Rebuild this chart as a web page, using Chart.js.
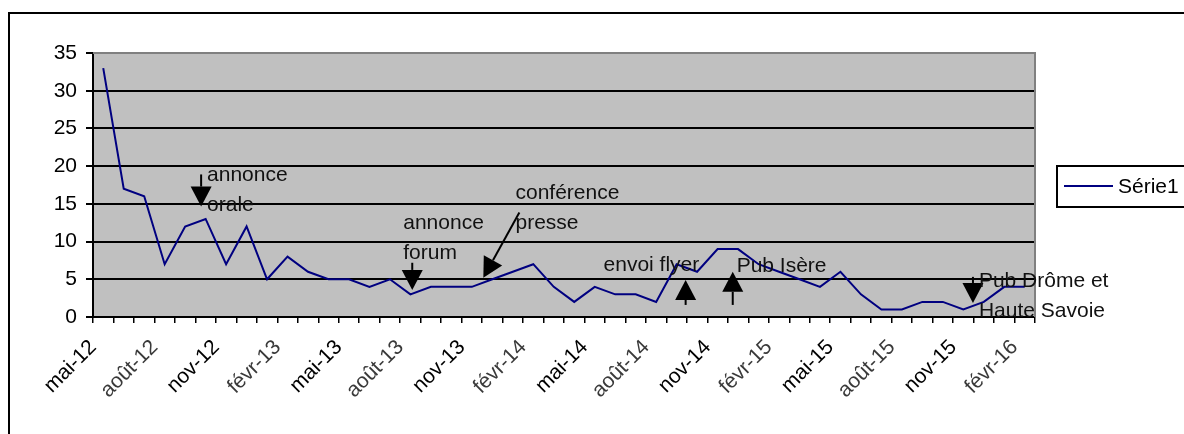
<!DOCTYPE html>
<html><head><meta charset="utf-8">
<script src="https://cdn.jsdelivr.net/npm/chart.js@4/dist/chart.umd.min.js"></script>
<style>html,body{margin:0;padding:0;background:#fff;overflow:hidden}canvas{display:block}</style>
</head><body>
<canvas id="c" width="1184" height="434"></canvas>
<script>
// ---- data ----
const months = ['mai-12','juin-12','juil-12','août-12','sept-12','oct-12','nov-12','déc-12',
 'janv-13','févr-13','mars-13','avr-13','mai-13','juin-13','juil-13','août-13','sept-13','oct-13','nov-13','déc-13',
 'janv-14','févr-14','mars-14','avr-14','mai-14','juin-14','juil-14','août-14','sept-14','oct-14','nov-14','déc-14',
 'janv-15','févr-15','mars-15','avr-15','mai-15','juin-15','juil-15','août-15','sept-15','oct-15','nov-15','déc-15',
 'janv-16','févr-16'];
const serie1 = [33,17,16,7,12,13,7,12,5,8,6,5,5,4,5,3,4,4,4,5,6,7,4,2,4,3,3,2,7,6,9,9,7,6,5,4,6,3,1,1,2,2,1,2,4,4];
const seriesName = 'Série1';
const yTicks = [0,5,10,15,20,25,30,35];
const labelEvery = 3;
// annotations, anchored in data space (category index, value)
const noteTexts = [
  {lines:['annonce','orale'], i:5.07, v:17.97},
  {lines:['annonce','forum'], i:14.65, v:11.71},
  {lines:['conférence','presse'], i:20.13, v:15.70},
  {lines:['envoi flyer'], i:24.43, v:6.12},
  {lines:['Pub Isère'], i:30.93, v:5.99},
  {lines:['Pub Drôme et','Haute Savoie'], i:42.76, v:3.99}
];
const noteArrows = [
  {from:[4.78,18.90], to:[4.78,14.64]},
  {from:[15.09,7.19], to:[15.09,3.59]},
  {from:[20.32,13.84], to:[18.56,5.19]},
  {from:[28.44,1.60], to:[28.44,4.92]},
  {from:[30.74,1.60], to:[30.74,5.99]},
  {from:[42.47,5.32], to:[42.47,1.86]}
];

const FONT = '"Liberation Sans", Arial, sans-serif';
Chart.defaults.font.family = FONT;
Chart.defaults.color = '#000';

function drawArrow(ctx,x1,y1,x2,y2,hl,hw){
  const dx=x2-x1, dy=y2-y1, L=Math.hypot(dx,dy), ux=dx/L, uy=dy/L;
  const bx=x2-ux*hl, by=y2-uy*hl;
  ctx.beginPath(); ctx.moveTo(x1,y1); ctx.lineTo(bx,by); ctx.stroke();
  ctx.beginPath(); ctx.moveTo(x2,y2);
  ctx.lineTo(bx-uy*hw, by+ux*hw); ctx.lineTo(bx+uy*hw, by-ux*hw);
  ctx.closePath(); ctx.fill();
}

const decor = {
  id:'decor',
  beforeDraw(chart){
    const {ctx, chartArea:a} = chart;
    ctx.save();
    ctx.fillStyle='#fff'; ctx.fillRect(0,0,chart.width,chart.height);
    ctx.strokeStyle='#000'; ctx.lineWidth=2;
    ctx.strokeRect(9,13,chart.width+20,chart.height+20);
    ctx.fillStyle='#c0c0c0'; ctx.fillRect(a.left,a.top,a.right-a.left,a.bottom-a.top);
    ctx.restore();
  },
  beforeDatasetsDraw(chart){
    const {ctx, chartArea:a} = chart;
    ctx.save();
    ctx.strokeStyle='#808080'; ctx.lineWidth=2;
    ctx.beginPath(); ctx.moveTo(a.left,a.top); ctx.lineTo(a.right,a.top); ctx.lineTo(a.right,a.bottom); ctx.stroke();
    ctx.restore();
  },
  afterDatasetsDraw(chart){
    const {ctx} = chart; const xs=chart.scales.x, ys=chart.scales.y;
    ctx.save();
    ctx.strokeStyle='#000'; ctx.fillStyle='#000'; ctx.lineWidth=2;
    noteArrows.forEach(a=>{
      drawArrow(ctx, xs.getPixelForValue(a.from[0]), ys.getPixelForValue(a.from[1]),
                xs.getPixelForValue(a.to[0]), ys.getPixelForValue(a.to[1]), 20, 10.5);
    });
    ctx.font='21px '+FONT; ctx.textAlign='left'; ctx.textBaseline='alphabetic';
    ctx.fillStyle='#111';
    noteTexts.forEach(t=>{
      const x=xs.getPixelForValue(t.i), y=ys.getPixelForValue(t.v);
      t.lines.forEach((s,k)=>ctx.fillText(s,x,y+k*30));
    });
    // legend
    const ds=chart.data.datasets[0];
    ctx.strokeStyle='#000'; ctx.lineWidth=2;
    ctx.strokeRect(1057,166,140,41);
    ctx.strokeStyle=ds.borderColor; ctx.lineWidth=2;
    ctx.beginPath(); ctx.moveTo(1064,186); ctx.lineTo(1113,186); ctx.stroke();
    ctx.fillStyle='#000'; ctx.font='21px '+FONT; ctx.textBaseline='middle';
    ctx.fillText(ds.label,1118,187);
    ctx.restore();
  }
};

new Chart(document.getElementById('c'), {
  type:'line',
  data:{labels:months, datasets:[{label:seriesName, data:serie1, borderColor:'#000080',
    borderWidth:2, pointRadius:0, tension:0, fill:false}]},
  options:{
    responsive:false, animation:false, devicePixelRatio:1,
    layout:{padding:{left:0, top:53, right:149, bottom:0}},
    plugins:{legend:{display:false}, tooltip:{enabled:false}},
    scales:{
      x:{type:'category', offset:true,
        grid:{offset:true, drawOnChartArea:false, drawTicks:true, tickLength:6, tickColor:'#000', lineWidth:1.5},
        border:{color:'#000', width:2},
        ticks:{autoSkip:false, maxRotation:45, minRotation:45, padding:12, labelOffset:-10,
          font:{size:21},
          color:(c)=>{const l=months[c.index]||''; return (l.startsWith('août')||l.startsWith('févr'))?'#3a3a3a':'#000';},
          callback:(v,i)=> i%labelEvery===0 ? months[i] : ''},
        afterFit:(s)=>{s.height=117;}
      },
      y:{min:0, max:35, afterBuildTicks:(s)=>{s.ticks=yTicks.map(v=>({value:v}));},
        grid:{color:(c)=>c.tick && c.tick.value===35?'#808080':'#000', lineWidth:2, tickLength:7, tickColor:'#000'},
        border:{color:'#000', width:2},
        ticks:{font:{size:21}, padding:9},
        afterFit:(s)=>{s.width=93;}
      }
    }
  },
  plugins:[decor]
});
</script>
</body></html>
